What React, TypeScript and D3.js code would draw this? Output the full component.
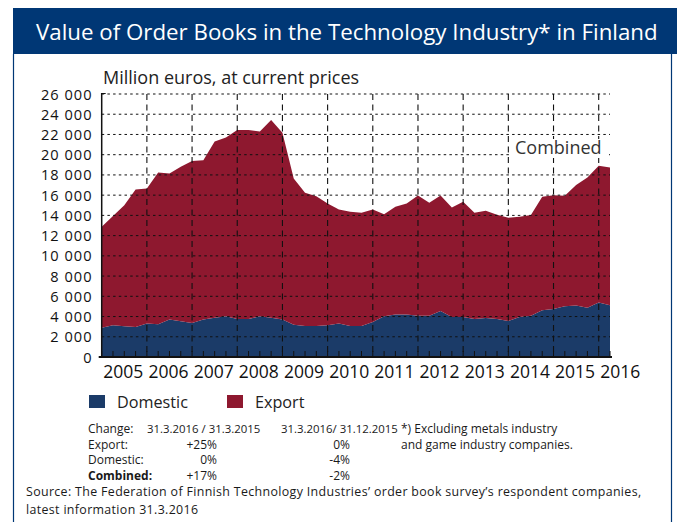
import React from "react";
import * as d3 from "d3";

// ---- data (quarter-end values, million euros) ----
const quarters: string[] = (() => {
  const q: string[] = ["2004-Q4"];
  for (let y = 2005; y <= 2015; y++) for (let k = 1; k <= 4; k++) q.push(`${y}-Q${k}`);
  q.push("2016-Q1");
  return q;
})();
const domestic = [2900, 3130, 3040, 2970, 3300, 3230, 3700, 3530, 3370, 3700, 3890, 4030, 3760, 3760, 4030, 3890, 3700, 3200, 3070, 3070, 3130, 3300, 3070, 3070, 3470, 4030, 4190, 4190, 4090, 4090, 4550, 3960, 3960, 3760, 3860, 3760, 3560, 3960, 4090, 4620, 4750, 5020, 5080, 4880, 5380, 5120];
const exportVals = [9970, 10800, 11960, 13600, 13370, 15020, 14450, 15270, 16000, 15740, 17410, 17670, 18680, 18680, 18270, 19540, 18480, 14450, 13170, 12830, 12050, 11290, 11290, 11190, 11120, 10090, 10660, 10990, 11880, 11160, 11420, 10820, 11390, 10500, 10590, 10300, 10200, 9900, 9940, 11220, 11250, 10920, 11920, 12870, 13530, 13620];
const yearLabels = ["2005", "2006", "2007", "2008", "2009", "2010", "2011", "2012", "2013", "2014", "2015", "2016"];
const yTicks = [0, 2000, 4000, 6000, 8000, 10000, 12000, 14000, 16000, 18000, 20000, 22000, 24000, 26000];
const seriesNames = ["Domestic", "Export"];
const tableHeader = ["Change:", "31.3.2016 / 31.3.2015", "31.3.2016/ 31.12.2015"];
const tableRows = [
  ["Export:", "+25%", "0%"],
  ["Domestic:", "0%", "-4%"],
  ["Combined:", "+17%", "-2%"],
];

const BLUE = "#1b3b68";
const RED = "#8e182f";
const NAVY = "#003775";
const FONT = "'Open Sans', 'Noto Sans', sans-serif";

function qToYear(q: string) {
  const [y, k] = q.split("-Q");
  return +y + (+k) / 4; // quarter end as fractional year
}

export default function App() {
  const L = 101.7, R = 610, T = 94, B = 357;
  const x = d3.scaleLinear().domain([2005, 2016.25]).range([L, R]);
  const y = d3.scaleLinear().domain([0, 26000]).range([B, T]);

  const rows = quarters.map((q, i) => ({ t: qToYear(q), domestic: domestic[i], export: exportVals[i] }));
  const stack = d3.stack<any>().keys(["domestic", "export"]);
  const series = stack(rows);
  const area = d3
    .area<any>()
    .x((d) => x(d.data.t))
    .y0((d) => y(d[0]))
    .y1((d) => y(d[1]));

  const yearLines = d3.range(2006, 2017);
  const qTicks = d3.range(2005, 2016.26, 0.25);
  const fmt = (v: number) => d3.format(",")(v).replace(/,/g, " ");

  return (
    <div style={{ position: "absolute", left: 0, top: 0 }}>
      <svg width={677} height={522} style={{ display: "block", fontFamily: FONT }}>
        <rect x={0} y={0} width={677} height={522} fill="#fff" />
        {/* frame */}
        <rect x={13} y={8} width={664} height={46} fill={NAVY} />
        <line x1={13.5} y1={54} x2={13.5} y2={522} stroke={NAVY} strokeWidth={1.2} />
        <line x1={671.5} y1={54} x2={671.5} y2={522} stroke={NAVY} strokeWidth={1.2} />
        <text x={36} y={40} fill="#fff" fontSize={22.3}>
          Value of Order Books in the Technology Industry* in Finland
        </text>

        {/* areas */}
        {series.map((s, i) => (
          <path key={s.key} d={area(s as any) || ""} fill={i === 0 ? BLUE : RED} />
        ))}

        {/* horizontal dotted grid */}
        {yTicks.slice(1).map((v) => (
          <line key={v} x1={L} x2={R} y1={y(v)} y2={y(v)} stroke="#111" strokeWidth={1} strokeDasharray="2.5,3.2" />
        ))}
        {/* vertical dashed year lines */}
        {yearLines.map((yr) => (
          <line key={yr} x1={x(yr)} x2={x(yr)} y1={T} y2={B} stroke="#111" strokeWidth={1.1} strokeDasharray="6,4.5" />
        ))}

        {/* Combined label */}
        <rect x={512} y={139} width={94} height={19} fill="#fff" />
        <text x={515} y={153.5} fontSize={18} fill="#333">Combined</text>

        {/* quarter ticks */}
        {qTicks.map((t, i) => (
          <line key={i} x1={x(t)} x2={x(t)} y1={B} y2={B - 6} stroke="#111" strokeWidth={1} />
        ))}
        {/* axes */}
        <line x1={L} x2={L} y1={T - 1} y2={B + 1} stroke="#111" strokeWidth={1.5} />
        <line x1={L - 3} x2={R + 2} y1={B} y2={B} stroke="#111" strokeWidth={2} />
        <line x1={L} x2={L + 4} y1={T - 0.5} y2={T - 0.5} stroke="#111" strokeWidth={1} />

        {/* y labels */}
        {yTicks.map((v) => (
          <text key={v} x={92.5} y={y(v) + 5.5} textAnchor="end" fontSize={14.6} letterSpacing={1} fill="#111">
            {fmt(v)}
          </text>
        ))}
        {/* x labels */}
        {yearLabels.map((lab) => (
          <text key={lab} x={x(+lab + 0.5) - 1} y={378} textAnchor="middle" fontSize={17.5} fill="#111">
            {lab}
          </text>
        ))}
        <text x={103} y={83.5} fontSize={18} fill="#222">Million euros, at current prices</text>

        {/* legend */}
        <rect x={89} y={395} width={16} height={13} fill={BLUE} />
        <text x={117} y={408} fontSize={16.2} fill="#222">{seriesNames[0]}</text>
        <rect x={227} y={395} width={16} height={13} fill={RED} />
        <text x={255} y={408} fontSize={16.2} fill="#222">{seriesNames[1]}</text>

        {/* table */}
        <g fontSize={12} fill="#1a1a1a">
          <text x={88} y={433}>{tableHeader[0]}</text>
          <text x={147} y={433} fontSize={11.4}>{tableHeader[1]}</text>
          <text x={281} y={433} fontSize={11.4}>{tableHeader[2]}</text>
          {tableRows.map((r, i) => (
            <g key={r[0]}>
              <text x={88} y={448.5 + i * 15.5} fontWeight={i === 2 ? "bold" : "normal"}>{r[0]}</text>
              <text x={217} y={448.5 + i * 15.5} textAnchor="end">{r[1]}</text>
              <text x={350} y={448.5 + i * 15.5} textAnchor="end">{r[2]}</text>
            </g>
          ))}
          <text x={401} y={433}>*) Excluding metals industry</text>
          <text x={401} y={448.5}>and game industry companies.</text>
          <text x={26} y={496.3} fontSize={12.4} letterSpacing={0.35}>
            Source: The Federation of Finnish Technology Industries’ order book survey’s respondent companies,
          </text>
          <text x={26} y={513.5} fontSize={12.4} letterSpacing={0.35}>latest information 31.3.2016</text>
        </g>
      </svg>
    </div>
  );
}
